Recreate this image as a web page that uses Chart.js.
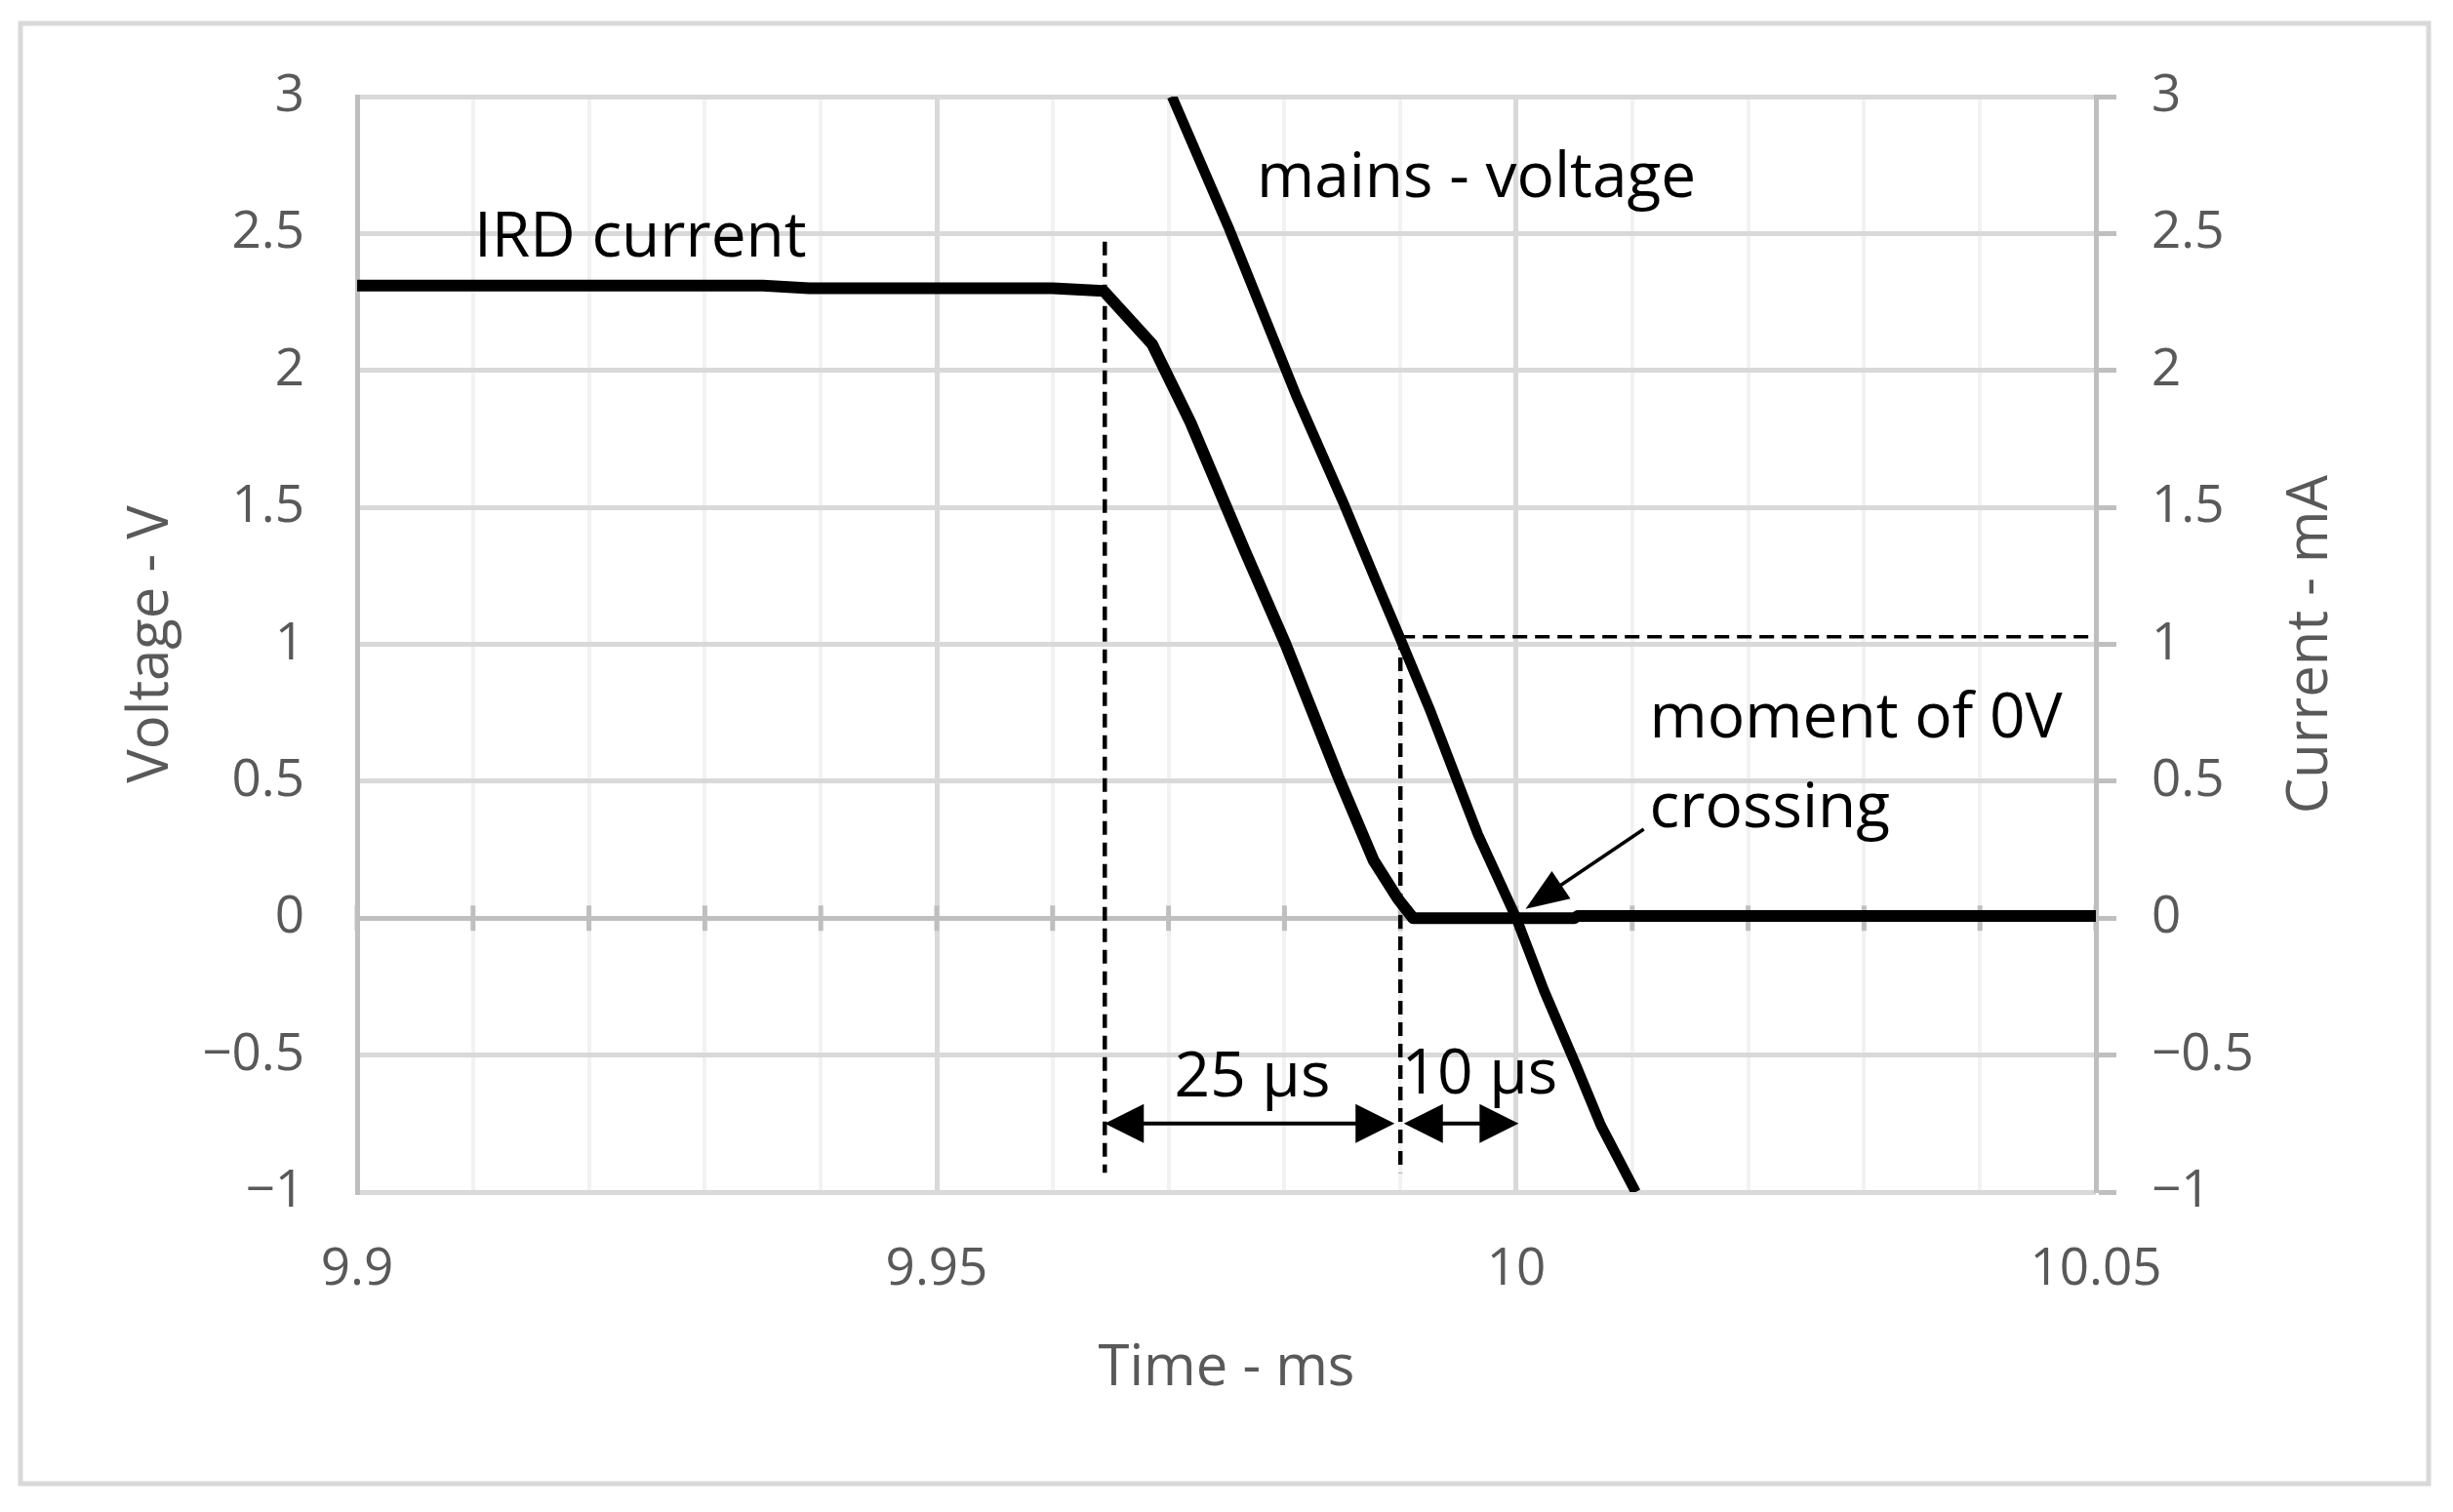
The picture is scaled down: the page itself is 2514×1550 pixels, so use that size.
<!DOCTYPE html>
<html>
<head>
<meta charset="utf-8">
<title>IRD current vs mains voltage</title>
<script src="https://cdn.jsdelivr.net/npm/chart.js@4.4.1/dist/chart.umd.min.js"></script>
<style>
    html, body { margin: 0; padding: 0; background: #fff; overflow: hidden; }
    #wrap { width: 2514px; height: 1550px; position: relative; }
</style>
</head>
<body>
<div id="wrap"><canvas id="chart"></canvas></div>
<script>
// IRD current, mA (right axis)
const irdTime    = [9.9000, 9.9350, 9.9390, 9.9600, 9.9644, 9.9686, 9.9719, 9.9766, 9.9801, 9.9846, 9.9877, 9.9898, 9.9911, 10.0050, 10.0053, 10.0500];
const irdCurrent = [2.31,   2.31,   2.30,   2.30,   2.29,   2.095,  1.81,   1.34,   1.00,   0.52,   0.21,   0.07,   0.00,   0.00,    0.008,   0.008];

// mains voltage, V (left axis)
const mainsTime    = [9.9703, 9.9752, 9.9810, 9.9851, 9.9882, 9.9900, 9.9925, 9.9953, 9.9967, 10.0000, 10.0024, 10.0052, 10.0073, 10.0103];
const mainsVoltage = [3.00,   2.52,   1.91,   1.515,  1.20,   1.02,   0.766,  0.458,  0.305,  0.00,    -0.265,  -0.542,  -0.757,  -1.00];

// axis ticks
const xMajorTicks = [9.9, 9.95, 10, 10.05];
const xTickLabels = ['9.9', '9.95', '10', '10.05'];

// annotations, in data units (time ms, value)
const guides = [
    { x1: 9.9645, y1: 2.47, x2: 9.9645, y2: -0.93 },
    { x1: 9.9900, y1: 1.03, x2: 9.9900, y2: -0.93 },
    { x1: 9.9900, y1: 1.028, x2: 10.05, y2: 1.028 }
];
const spans = [
    { from: 9.9645, to: 9.9895, y: -0.75 },
    { from: 9.9903, to: 10.0002, y: -0.75 }
];
const notes = [
    { text: 'IRD current', x: 9.9101, y: 2.416 },
    { text: 'mains - voltage', x: 9.9776, y: 2.633 },
    { text: 'moment of 0V', x: 10.0115, y: 0.660 },
    { text: 'crossing', x: 10.0115, y: 0.332 },
    { text: '25 µs', x: 9.9705, y: -0.651 },
    { text: '10 µs', x: 9.9901, y: -0.640 }
];
const pointer = { fromX: 10.0110, fromY: 0.325, toX: 10.0008, toY: 0.034 };

const FONT = "'Open Sans', 'DejaVu Sans', sans-serif";
const GREY_TEXT = '#595959';

function near(a, b) { return Math.abs(a - b) < 1e-6; }
function isMajorX(v) { return xMajorTicks.some(m => near(m, v)); }

function arrowHead(c, tx, ty, angle, len, half) {
    c.beginPath();
    c.moveTo(tx, ty);
    c.lineTo(tx - len * Math.cos(angle) + half * Math.sin(angle), ty - len * Math.sin(angle) - half * Math.cos(angle));
    c.lineTo(tx - len * Math.cos(angle) - half * Math.sin(angle), ty - len * Math.sin(angle) + half * Math.cos(angle));
    c.closePath();
    c.fill();
}

const decor = {
    id: 'decor',
    beforeDraw(chart) {
        const c = chart.ctx;
        c.save();
        c.fillStyle = '#fff';
        c.fillRect(0, 0, chart.width, chart.height);
        c.strokeStyle = '#d9d9d9';
        c.lineWidth = 5;
        c.strokeRect(21, 24, 2468, 1497);
        c.restore();
    },
    beforeDatasetsDraw(chart) {
        const c = chart.ctx;
        const x = chart.scales.x, y = chart.scales.y;
        c.save();
        // cross tick marks on the zero line
        c.strokeStyle = '#bfbfbf';
        c.lineWidth = 5;
        const y0 = y.getPixelForValue(0);
        x.ticks.forEach(t => {
            const px = x.getPixelForValue(t.value);
            c.beginPath();
            c.moveTo(px, y0 - 13);
            c.lineTo(px, y0 + 13);
            c.stroke();
        });
        // dashed guides
        c.strokeStyle = '#000';
        guides.forEach((g, i) => {
            c.lineWidth = i === 2 ? 3.5 : 4.5;
            c.setLineDash(i === 2 ? [15, 8] : [14, 8]);
            c.beginPath();
            c.moveTo(x.getPixelForValue(g.x1), y.getPixelForValue(g.y1));
            c.lineTo(x.getPixelForValue(g.x2), y.getPixelForValue(g.y2));
            c.stroke();
        });
        c.restore();
    },
    afterDatasetsDraw(chart) {
        const c = chart.ctx;
        const x = chart.scales.x, y = chart.scales.y;
        c.save();
        c.strokeStyle = '#000';
        c.fillStyle = '#000';
        c.lineWidth = 4;
        // double-headed spans
        spans.forEach(s => {
            const a = x.getPixelForValue(s.from), b = x.getPixelForValue(s.to), py = y.getPixelForValue(s.y);
            c.beginPath();
            c.moveTo(a + 30, py);
            c.lineTo(b - 30, py);
            c.stroke();
            arrowHead(c, a, py, Math.PI, 40, 20);
            arrowHead(c, b, py, 0, 40, 20);
        });
        // pointer to the zero crossing
        const fx = x.getPixelForValue(pointer.fromX), fy = y.getPixelForValue(pointer.fromY);
        const tx = x.getPixelForValue(pointer.toX), ty = y.getPixelForValue(pointer.toY);
        const ang = Math.atan2(ty - fy, tx - fx);
        c.lineWidth = 3.5;
        c.beginPath();
        c.moveTo(fx, fy);
        c.lineTo(tx - 30 * Math.cos(ang), ty - 30 * Math.sin(ang));
        c.stroke();
        arrowHead(c, tx, ty, ang, 44, 17);
        // text notes
        c.font = `64px ${FONT}`;
        c.textAlign = 'left';
        c.textBaseline = 'alphabetic';
        notes.forEach(n => c.fillText(n.text, x.getPixelForValue(n.x), y.getPixelForValue(n.y)));
        c.restore();
    },
    afterDraw(chart) {
        const c = chart.ctx;
        const area = chart.chartArea;
        const midY = (area.top + area.bottom) / 2;
        c.save();
        c.fillStyle = GREY_TEXT;
        c.font = `58px ${FONT}`;
        c.textAlign = 'center';
        c.textBaseline = 'middle';
        c.fillText('Time - ms', (area.left + area.right) / 2, 1403);
        [['Voltage - V', 155], ['Current - mA', 2368]].forEach(([t, px]) => {
            c.save();
            c.translate(px, midY);
            c.rotate(-Math.PI / 2);
            c.fillText(t, 0, 0);
            c.restore();
        });
        c.restore();
    }
};

const tickFont = { family: FONT, size: 53 };
const fmt = v => String(+v.toFixed(2)).replace('-', '\u2212');

new Chart(document.getElementById('chart'), {
    type: 'line',
    data: {
        datasets: [
            {
                label: 'IRD current',
                data: irdTime.map((t, i) => ({ x: t, y: irdCurrent[i] })),
                yAxisID: 'y2',
                borderColor: '#000',
                borderWidth: 12,
                borderJoinStyle: 'round',
                pointRadius: 0,
                tension: 0
            },
            {
                label: 'mains - voltage',
                data: mainsTime.map((t, i) => ({ x: t, y: mainsVoltage[i] })),
                yAxisID: 'y',
                borderColor: '#000',
                borderWidth: 10.5,
                borderJoinStyle: 'round',
                pointRadius: 0,
                tension: 0
            }
        ]
    },
    options: {
        responsive: true,
        maintainAspectRatio: false,
        animation: false,
        events: [],
        layout: { padding: { top: 99, left: 0, right: 0, bottom: 0 } },
        plugins: {
            legend: { display: false },
            tooltip: { enabled: false }
        },
        scales: {
            x: {
                type: 'linear',
                position: 'bottom',
                min: 9.9,
                max: 10.05,
                afterFit: s => { s.height = 328; },
                border: { display: false },
                grid: {
                    drawTicks: false,
                    color: ctx => {
                        const v = ctx.tick.value;
                        if (near(v, 9.9) || near(v, 10.05)) return '#bfbfbf';
                        return isMajorX(v) ? '#d9d9d9' : '#f2f2f2';
                    },
                    lineWidth: ctx => (isMajorX(ctx.tick.value) ? 5 : 4)
                },
                ticks: {
                    stepSize: 0.01,
                    autoSkip: false,
                    maxRotation: 0,
                    padding: 48,
                    color: GREY_TEXT,
                    font: tickFont,
                    callback: v => {
                        const i = xMajorTicks.findIndex(m => near(m, v));
                        return i >= 0 ? xTickLabels[i] : '';
                    }
                }
            },
            y: {
                position: 'left',
                min: -1,
                max: 3,
                afterFit: s => { s.width = 366; },
                border: { display: true, color: '#bfbfbf', width: 5 },
                grid: {
                    drawTicks: false,
                    color: ctx => (near(ctx.tick.value, 0) ? '#bfbfbf' : '#d9d9d9'),
                    lineWidth: 5
                },
                ticks: { stepSize: 0.5, padding: 54, color: GREY_TEXT, font: tickFont, callback: fmt }
            },
            y2: {
                position: 'right',
                min: -1,
                max: 3,
                afterFit: s => { s.width = 366; },
                border: { display: true, color: '#bfbfbf', width: 5 },
                grid: {
                    drawOnChartArea: false,
                    drawTicks: true,
                    tickLength: 21,
                    tickColor: '#bfbfbf',
                    tickWidth: 5
                },
                ticks: { stepSize: 0.5, padding: 36, color: GREY_TEXT, font: tickFont, callback: fmt }
            }
        }
    },
    plugins: [decor]
});
</script>
</body>
</html>
